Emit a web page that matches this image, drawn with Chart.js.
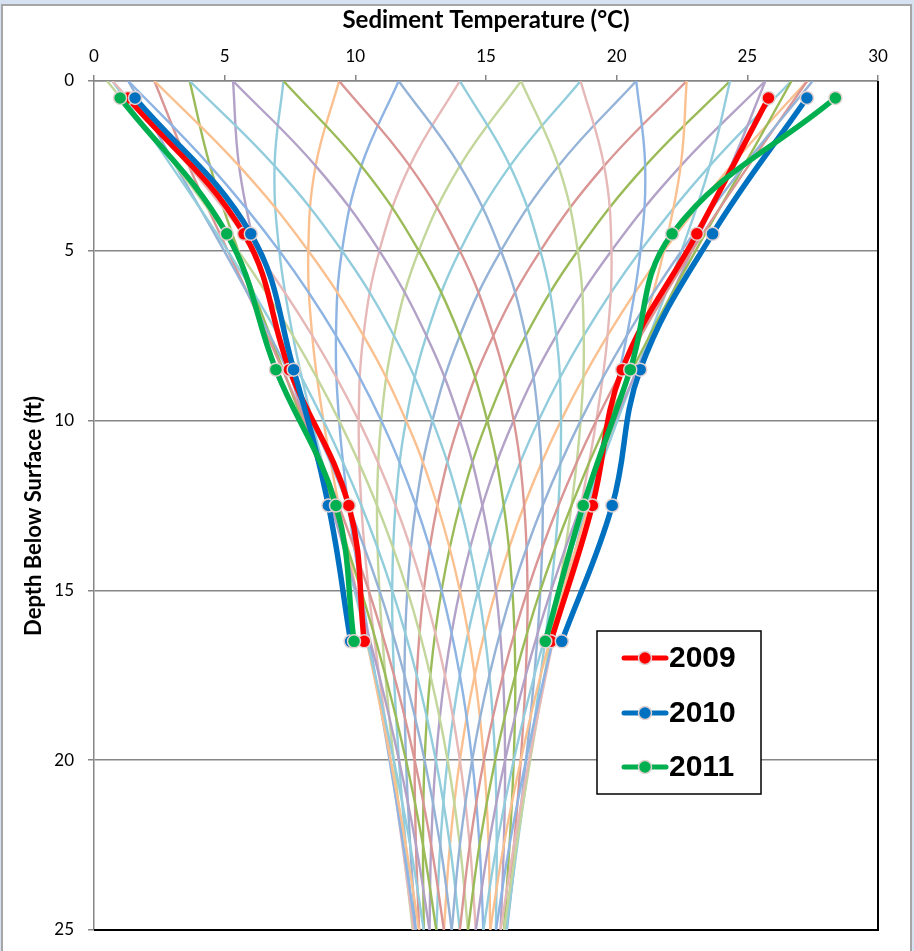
<!DOCTYPE html>
<html>
<head>
<meta charset="utf-8">
<script src="https://cdn.jsdelivr.net/npm/chart.js@4"></script>
<style>
  html, body { margin: 0; padding: 0; background: #d6e1f2; overflow: hidden; }
  #frame { position: absolute; left: 1px; top: 4px; width: 907px; height: 960px; background: #fff; border: 2px solid #a6a6a6; }
  #chart { position: absolute; left: 0; top: 0; }
</style>
</head>
<body>
<div id="frame"></div>
<canvas id="chart" width="914" height="951"></canvas>
<script>
// depth (ft) of the thin model curves
const DEPTHS = [0, 2.5, 5, 7.5, 10, 12.5, 15, 17.5, 20, 22.5, 25];

// thin envelope curves, temperature (C) at each depth above
const curve00 = [27.50, 24.87, 22.48, 20.39, 18.62, 17.17, 16.01, 15.13, 14.47, 14.00, 13.69];
const curve01 = [27.29, 25.04, 22.88, 20.93, 19.22, 17.77, 16.59, 15.65, 14.92, 14.38, 14.00];
const curve02 = [26.69, 24.87, 23.02, 21.26, 19.66, 18.27, 17.08, 16.12, 15.35, 14.75, 14.31];
const curve03 = [25.69, 24.37, 22.88, 21.37, 19.94, 18.63, 17.49, 16.52, 15.73, 15.10, 14.61];
const curve04 = [24.34, 23.56, 22.48, 21.26, 20.03, 18.85, 17.78, 16.85, 16.06, 15.41, 14.90];
const curve05 = [22.68, 22.45, 21.81, 20.93, 19.94, 18.93, 17.97, 17.09, 16.33, 15.68, 15.16];
const curve06 = [20.75, 21.09, 20.91, 20.39, 19.66, 18.85, 18.03, 17.24, 16.53, 15.90, 15.38];
const curve07 = [18.62, 19.52, 19.80, 19.65, 19.22, 18.63, 17.97, 17.29, 16.65, 16.07, 15.56];
const curve08 = [16.34, 17.77, 18.51, 18.74, 18.62, 18.27, 17.78, 17.24, 16.69, 16.17, 15.69];
const curve09 = [14.00, 15.92, 17.08, 17.69, 17.87, 17.77, 17.49, 17.09, 16.65, 16.20, 15.77];
const curve10 = [11.66, 14.00, 15.57, 16.52, 17.01, 17.17, 17.08, 16.85, 16.53, 16.17, 15.80];
const curve11 = [9.38, 12.08, 14.00, 15.28, 16.06, 16.46, 16.59, 16.52, 16.33, 16.07, 15.77];
const curve12 = [7.25, 10.23, 12.43, 14.00, 15.05, 15.68, 16.01, 16.12, 16.06, 15.90, 15.69];
const curve13 = [5.32, 8.48, 10.92, 12.72, 14.00, 14.86, 15.38, 15.65, 15.73, 15.68, 15.56];
const curve14 = [3.66, 6.91, 9.49, 11.48, 12.95, 14.00, 14.70, 15.13, 15.35, 15.41, 15.38];
const curve15 = [2.31, 5.55, 8.20, 10.31, 11.94, 13.14, 14.00, 14.57, 14.92, 15.10, 15.16];
const curve16 = [1.31, 4.44, 7.09, 9.26, 10.99, 12.32, 13.30, 14.00, 14.47, 14.75, 14.90];
const curve17 = [0.71, 3.63, 6.19, 8.35, 10.13, 11.54, 12.62, 13.43, 14.00, 14.38, 14.61];
const curve18 = [0.50, 3.13, 5.52, 7.61, 9.38, 10.83, 11.99, 12.87, 13.53, 14.00, 14.31];
const curve19 = [0.71, 2.96, 5.12, 7.07, 8.78, 10.23, 11.41, 12.35, 13.08, 13.62, 14.00];
const curve20 = [1.31, 3.13, 4.98, 6.74, 8.34, 9.73, 10.92, 11.88, 12.65, 13.25, 13.69];
const curve21 = [2.31, 3.63, 5.12, 6.63, 8.06, 9.37, 10.51, 11.48, 12.27, 12.90, 13.39];
const curve22 = [3.66, 4.44, 5.52, 6.74, 7.97, 9.15, 10.22, 11.15, 11.94, 12.59, 13.10];
const curve23 = [5.32, 5.55, 6.19, 7.07, 8.06, 9.07, 10.03, 10.91, 11.67, 12.32, 12.84];
const curve24 = [7.25, 6.91, 7.09, 7.61, 8.34, 9.15, 9.97, 10.76, 11.47, 12.10, 12.62];
const curve25 = [9.38, 8.48, 8.20, 8.35, 8.78, 9.37, 10.03, 10.71, 11.35, 11.93, 12.44];
const curve26 = [11.66, 10.23, 9.49, 9.26, 9.38, 9.73, 10.22, 10.76, 11.31, 11.83, 12.31];
const curve27 = [14.00, 12.08, 10.92, 10.31, 10.13, 10.23, 10.51, 10.91, 11.35, 11.80, 12.23];
const curve28 = [16.34, 14.00, 12.43, 11.48, 10.99, 10.83, 10.92, 11.15, 11.47, 11.83, 12.20];
const curve29 = [18.62, 15.92, 14.00, 12.72, 11.94, 11.54, 11.41, 11.48, 11.67, 11.93, 12.23];
const curve30 = [20.75, 17.77, 15.57, 14.00, 12.95, 12.32, 11.99, 11.88, 11.94, 12.10, 12.31];
const curve31 = [22.68, 19.52, 17.08, 15.28, 14.00, 13.14, 12.62, 12.35, 12.27, 12.32, 12.44];
const curve32 = [24.34, 21.09, 18.51, 16.52, 15.05, 14.00, 13.30, 12.87, 12.65, 12.59, 12.62];
const curve33 = [25.69, 22.45, 19.80, 17.69, 16.06, 14.86, 14.00, 13.43, 13.08, 12.90, 12.84];
const curve34 = [26.69, 23.56, 20.91, 18.74, 17.01, 15.68, 14.70, 14.00, 13.53, 13.25, 13.10];
const curve35 = [27.29, 24.37, 21.81, 19.65, 17.87, 16.46, 15.38, 14.57, 14.00, 13.62, 13.39];

const CURVES = [
  curve00, curve01, curve02, curve03, curve04, curve05, curve06, curve07, curve08,
  curve09, curve10, curve11, curve12, curve13, curve14, curve15, curve16, curve17,
  curve18, curve19, curve20, curve21, curve22, curve23, curve24, curve25, curve26,
  curve27, curve28, curve29, curve30, curve31, curve32, curve33, curve34, curve35,
];

const CURVE_COLORS = [
  "#95b3d7", "#d99694", "#9bbb59", "#b3a2c7", "#93cddd",
  "#fac090", "#8eb4e3", "#e6b9b8", "#c3d69b", "#92cddc",
];

// measured profiles
const YEARS = ["2009", "2010", "2011"];
const YEAR_COLORS = ["#ff0000", "#0070c0", "#00b050"];
const POINT_DEPTHS = [0.5, 4.5, 8.5, 12.5, 16.5];
const MIN_2009 = [1.30, 5.74, 7.48, 9.75, 10.34];
const MAX_2009 = [25.81, 23.07, 20.21, 19.07, 17.48];
const MIN_2010 = [1.57, 6.00, 7.64, 8.97, 9.82];
const MAX_2010 = [27.28, 23.67, 20.90, 19.83, 17.90];
const MIN_2011 = [1.00, 5.08, 6.96, 9.26, 9.95];
const MAX_2011 = [28.37, 22.12, 20.52, 18.72, 17.27];

const X_TICKS = [0, 5, 10, 15, 20, 25, 30];
const Y_TICKS = [0, 5, 10, 15, 20, 25];
const Y_TITLE = "Depth Below Surface (ft)";

const pts = (temps, depths) => temps.map((t, i) => ({ x: t, y: depths[i] }));

function yearDataset(idx, temps) {
  const c = YEAR_COLORS[idx];
  return {
    label: YEARS[idx],
    data: pts(temps, POINT_DEPTHS),
    showLine: true,
    borderColor: c,
    backgroundColor: c,
    borderWidth: 5.5,
    borderJoinStyle: "round",
    borderCapStyle: "round",
    tension: 0.4,
    pointRadius: 6.5,
    pointBorderWidth: 1.5,
    pointBorderColor: "#e2d2d2",
    pointBackgroundColor: c,
    order: 3 - idx,
  };
}

const datasets = [
  yearDataset(0, MIN_2009), yearDataset(0, MAX_2009),
  yearDataset(1, MIN_2010), yearDataset(1, MAX_2010),
  yearDataset(2, MIN_2011), yearDataset(2, MAX_2011),
];

CURVES.forEach((temps, i) => {
  datasets.push({
    label: "c" + i,
    data: pts(temps, DEPTHS),
    showLine: true,
    borderColor: CURVE_COLORS[i % CURVE_COLORS.length],
    borderWidth: 2.4,
    tension: 0.4,
    pointRadius: 0,
    order: 10,
  });
});

// black right/bottom border of the plot area
const plotBorder = {
  id: "plotBorder",
  beforeDatasetsDraw(chart) {
    const { ctx, chartArea: a } = chart;
    ctx.save();
    ctx.strokeStyle = "#000";
    ctx.lineWidth = 2;
    ctx.beginPath();
    ctx.moveTo(a.right, a.top);
    ctx.lineTo(a.right, a.bottom);
    ctx.lineTo(a.left, a.bottom);
    ctx.stroke();
    ctx.restore();
  },
};

// y title sits a little below the plot centre, as in the original
const yTitle = {
  id: "yTitle",
  afterDraw(chart) {
    const ctx = chart.ctx;
    ctx.save();
    ctx.translate(34, 516);
    ctx.rotate(-Math.PI / 2);
    ctx.font = "bold 22px Lato, sans-serif";
    ctx.fillStyle = "#000";
    ctx.textAlign = "center";
    ctx.textBaseline = "middle";
    ctx.fillText(Y_TITLE, 0, 0);
    ctx.restore();
  },
};

// boxed legend sitting inside the plot
const boxLegend = {
  id: "boxLegend",
  afterDraw(chart) {
    const ctx = chart.ctx;
    ctx.save();
    ctx.fillStyle = "#fff";
    ctx.fillRect(597, 631, 164, 163);
    ctx.strokeStyle = "#000";
    ctx.lineWidth = 1.5;
    ctx.strokeRect(597, 631, 164, 163);
    const rows = [658, 713, 767];
    YEARS.forEach((yr, i) => {
      const y = rows[i];
      const c = YEAR_COLORS[i];
      ctx.strokeStyle = c;
      ctx.lineWidth = 5;
      ctx.lineCap = "round";
      ctx.beginPath();
      ctx.moveTo(624, y);
      ctx.lineTo(666, y);
      ctx.stroke();
      ctx.beginPath();
      ctx.arc(645, y, 6.5, 0, Math.PI * 2);
      ctx.fillStyle = c;
      ctx.fill();
      ctx.lineWidth = 1.5;
      ctx.strokeStyle = "#e2d2d2";
      ctx.stroke();
      ctx.fillStyle = "#000";
      ctx.font = "bold 30px 'Liberation Sans', Arial, sans-serif";
      ctx.textBaseline = "middle";
      ctx.fillText(yr, 669, y + 1);
    });
    ctx.restore();
  },
};

Chart.defaults.font.family = "Lato, sans-serif";
Chart.defaults.color = "#000";

new Chart(document.getElementById("chart"), {
  type: "scatter",
  data: { datasets },
  options: {
    responsive: false,
    animation: false,
    devicePixelRatio: 1,
    layout: { padding: { left: 0, top: 0, right: 36, bottom: 21 } },
    plugins: {
      legend: { display: false },
      tooltip: { enabled: false },
    },
    scales: {
      x: {
        type: "linear",
        position: "top",
        min: 0,
        max: 30,
        afterBuildTicks: (s) => { s.ticks = X_TICKS.map((v) => ({ value: v })); },
        afterFit: (s) => { s.height = 81; s.paddingLeft = 0; s.paddingRight = 0; },
        ticks: { font: { size: 17 }, padding: 8, color: "#000" },
        grid: { drawOnChartArea: false, drawTicks: true, tickLength: 6, color: "#868686", lineWidth: 1.5 },
        border: { color: "#868686", width: 1.5 },
        title: {
          display: true,
          text: "Sediment Temperature (°C)",
          font: { size: 24, weight: "bold" },
          padding: { top: 6, bottom: 0 },
          color: "#000",
        },
      },
      y: {
        type: "linear",
        reverse: true,
        min: 0,
        max: 25,
        afterBuildTicks: (s) => { s.ticks = Y_TICKS.map((v) => ({ value: v })); },
        afterFit: (s) => { s.width = 94; s.paddingTop = 0; s.paddingBottom = 0; },
        ticks: { font: { size: 17 }, padding: 14, color: "#000" },
        grid: { color: "#868686", lineWidth: 1.5, tickLength: 6 },
        border: { color: "#868686", width: 1.5 },
        title: { display: false },
      },
    },
  },
  plugins: [plotBorder, yTitle, boxLegend],
});
</script>
</body>
</html>
